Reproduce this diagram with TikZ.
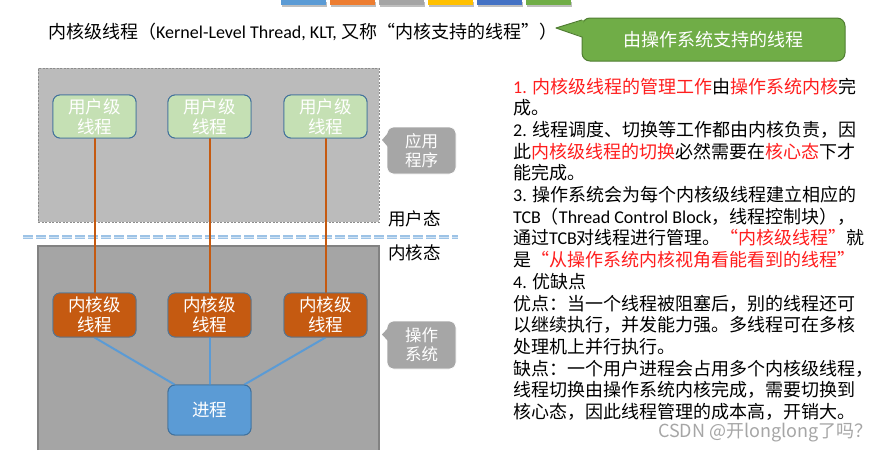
\documentclass[tikz,border=0pt]{standalone}
\usepackage{fontspec}
\setmainfont{Noto Sans CJK SC}
\newfontfamily\calfont{Carlito}
\newcommand\fwlq{\makebox[1em][r]{“}}
\newcommand\fwrq{\makebox[1em][l]{”}}
\definecolor{upfill}{RGB}{187,187,187}
\definecolor{upline}{RGB}{140,140,140}
\definecolor{lowfill}{RGB}{165,165,165}
\definecolor{lowline}{RGB}{130,130,130}
\definecolor{ugreen}{RGB}{197,224,180}
\definecolor{bblue}{RGB}{65,113,156}
\definecolor{korange}{RGB}{197,90,17}
\definecolor{pblue}{RGB}{91,155,213}
\definecolor{dashblue}{RGB}{157,195,230}
\definecolor{cgray}{RGB}{166,166,166}
\definecolor{cgreen}{RGB}{112,173,71}
\definecolor{cgreenline}{RGB}{80,126,50}
\definecolor{tred}{RGB}{255,30,30}
\definecolor{barA}{RGB}{91,155,213}
\definecolor{barB}{RGB}{237,125,49}
\definecolor{barC}{RGB}{165,165,165}
\definecolor{barD}{RGB}{255,192,0}
\definecolor{barE}{RGB}{68,114,196}
\definecolor{barF}{RGB}{112,173,71}
\begin{document}
\begin{tikzpicture}[x=1pt,y=-1pt,
  boxtxt/.style={font=\fontsize{17.5}{20}\selectfont, align=center, text=white},
  threadbox/.style={boxtxt, rounded corners=7, minimum width=83, minimum height=43, inner sep=0, line width=0.9pt},
  userbox/.style={threadbox, draw=bblue, fill=ugreen},
  kernbox/.style={threadbox, draw=bblue!70!gray, fill=korange},
  procbox/.style={threadbox, draw=bblue, fill=pblue, minimum height=50},
  callgray/.style={fill=cgray, draw=white, line width=0.6pt, rounded corners=7, minimum width=69, minimum height=47, inner sep=0, text=white, align=center, font=\fontsize{16.5}{19}\selectfont},
  statelbl/.style={anchor=west, inner sep=0, font=\fontsize{17.5}{20}\selectfont},
  rline/.style={anchor=base west, inner sep=0, font=\fontsize{18}{21}\selectfont},
  orline/.style={draw=korange, line width=2pt},
  blline/.style={draw=pblue, line width=2pt},
  bar/.style={minimum width=45, minimum height=5, inner sep=0, anchor=north west}
]
\useasboundingbox (0,0) rectangle (894,450);
\fill[white] (0,0) rectangle (894,450);

% top bars
\foreach \x/\c [count=\i] in {281/barA,330/barB,379/barC,428/barD,477/barE,526/barF}{
  \fill[black!25] (\x+1,1.5) rectangle (\x+46,6.5);
  \node[bar, fill=\c] (bar\i) at (\x,0) {};
}

% title
\node[anchor=base west, inner sep=0, font=\fontsize{18}{20}\selectfont] (title) at (48,38.5)
  {内核级线程（{\calfont Kernel-Level Thread, KLT, }又称\fwlq 内核支持的线程\fwrq）};

% green callout
\node[fill=cgreen, draw=cgreenline, line width=1pt, rounded corners=8, minimum width=263, minimum height=43, inner sep=0,
  text=white, font=\fontsize{18}{21}\selectfont] (gcall) at (713.5,39.5) {由操作系统支持的线程};
\fill[cgreen] (583.5,20) -- (556,28) -- (583.5,37) -- cycle;
\draw[cgreenline, line width=1pt, line join=round] (582,20) -- (556,28) -- (582,37);

% areas
\node[fill=upfill, draw=upline, dash pattern=on 2pt off 1.5pt, line width=0.8pt, minimum width=341, minimum height=154, inner sep=0, anchor=north west] (uparea) at (38,68) {};
\fill[lowfill] (38,246) rectangle (379,450);
\draw[lowline, line width=1.2pt] (38,450) -- (38,246) -- (379,246) -- (379,450);

% user / kernel state separator
\coordinate (sepL) at (23,237);
\coordinate (sepR) at (458,237);
\draw[dashblue, line width=4pt, dash pattern=on 10pt off 3pt] (sepL) -- (sepR);
\draw[dashblue!45!white, line width=0.8pt, dash pattern=on 10pt off 3pt] (sepL) -- (sepR);
\node[statelbl] (ustate) at (388,219) {用户态};
\node[statelbl] (kstate) at (388,253) {内核态};

% nodes (placed first to name them)
\node[userbox] (u1) at (94.5,116.5) {用户级\\线程};
\node[userbox] (u2) at (209.5,116.5) {用户级\\线程};
\node[userbox] (u3) at (325.5,116.5) {用户级\\线程};
\node[kernbox, minimum height=44] (k1) at (94.5,315) {内核级\\线程};
\node[kernbox, minimum height=44] (k2) at (209.5,315) {内核级\\线程};
\node[kernbox, minimum height=44] (k3) at (325.5,315) {内核级\\线程};
\node[procbox] (p) at (209.5,410) {进程};

% connectors
\draw[orline] (u1.south) -- (k1.north);
\draw[orline] (u2.south) -- (k2.north);
\draw[orline] (u3.south) -- (k3.north);
\draw[blline] (k1.south) -- ([xshift=7]p.north west);
\draw[blline] (k2.south) -- (p.north);
\draw[blline] (k3.south) -- ([xshift=-7]p.north east);
% redraw boxes over the line ends
\node[userbox] at (u1) {用户级\\线程};
\node[userbox] at (u2) {用户级\\线程};
\node[userbox] at (u3) {用户级\\线程};
\node[kernbox, minimum height=44] at (k1) {内核级\\线程};
\node[kernbox, minimum height=44] at (k2) {内核级\\线程};
\node[kernbox, minimum height=44] at (k3) {内核级\\线程};
\node[procbox] at (p) {进程};

% gray callouts
\node[callgray] (app) at (421.5,150.5) {应用\\程序};
\fill[cgray] (388,133) -- (382,140) -- (388,147) -- cycle;
\node[callgray, minimum height=48] (os) at (421.5,345) {操作\\系统};
\fill[cgray] (388,328) -- (382,334.5) -- (388,341) -- cycle;

% right text
\node[rline] (t1) at (513,93) {\textcolor{tred}{{\calfont 1. }内核级线程的管理工作}由\textcolor{tred}{操作系统内核}完};
\node[rline] (t2) at (513,114.7) {成。};
\node[rline] (t3) at (513,136.4) {{\calfont 2. }线程调度、切换等工作都由内核负责，因};
\node[rline] (t4) at (513,158.1) {此\textcolor{tred}{内核级线程的切换}必然需要在\textcolor{tred}{核心态}下才};
\node[rline] (t5) at (513,179.8) {能完成。};
\node[rline] (t6) at (513,201.5) {{\calfont 3. }操作系统会为每个内核级线程建立相应的};
\node[rline] (t7) at (513,223.2) {{\calfont TCB}（{\calfont Thread Control Block}，线程控制块），};
\node[rline] (t8) at (513,244.9) {通过{\calfont TCB}对线程进行管理。\textcolor{tred}{\fwlq 内核级线程\fwrq}就};
\node[rline] (t9) at (513,266.6) {是\textcolor{tred}{\fwlq 从操作系统内核视角看能看到的线程\fwrq}};
\node[rline] (t10) at (513,288.3) {{\calfont 4. }优缺点};
\node[rline] (t11) at (513,310) {优点：当一个线程被阻塞后，别的线程还可};
\node[rline] (t12) at (513,331.7) {以继续执行，并发能力强。多线程可在多核};
\node[rline] (t13) at (513,353.4) {处理机上并行执行。};
\node[rline] (t14) at (513,375.1) {缺点：一个用户进程会占用多个内核级线程，};
\node[rline] (t15) at (513,396.8) {线程切换由操作系统内核完成，需要切换到};
\node[rline] (t16) at (513,418.5) {核心态，因此线程管理的成本高，开销大。};

% watermark
\node[anchor=base west, inner sep=0, text=black!35, font=\fontsize{18}{21}\selectfont] (wm) at (658,437) {CSDN @开longlong了吗？};
\end{tikzpicture}
\end{document}
